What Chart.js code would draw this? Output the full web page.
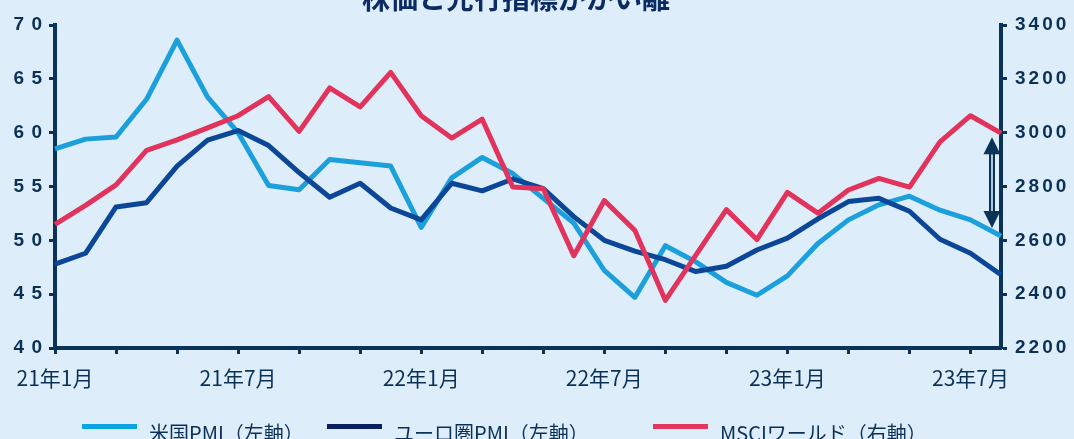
<!DOCTYPE html>
<html lang="ja">
<head>
<meta charset="utf-8">
<script src="https://cdn.jsdelivr.net/npm/chart.js@4.4.1/dist/chart.umd.min.js"></script>
<style>
  html, body { margin: 0; padding: 0; background: #ddeefa; }
  #wrap { position: relative; width: 1074px; height: 439px; overflow: hidden; background: #ddeefa; }
  #grafico { position: absolute; left: 0; top: 0; }
  .leg-sw { position: absolute; top: 424px; width: 55px; height: 5px; }
  .leg-tx { position: absolute; top: 418px; line-height: 20px; font: 20px "Noto Sans CJK JP", sans-serif; color: #0b3056; white-space: nowrap; }
</style>
</head>
<body>
<div id="wrap">
  <canvas id="grafico" width="1074" height="439"></canvas>
  <div id="legenda"></div>
</div>
<script>
const titulo = '株価と先行指標がかい離';

const meses = [
  '21年1月', '21年2月', '21年3月', '21年4月', '21年5月', '21年6月',
  '21年7月', '21年8月', '21年9月', '21年10月', '21年11月', '21年12月',
  '22年1月', '22年2月', '22年3月', '22年4月', '22年5月', '22年6月',
  '22年7月', '22年8月', '22年9月', '22年10月', '22年11月', '22年12月',
  '23年1月', '23年2月', '23年3月', '23年4月', '23年5月', '23年6月',
  '23年7月', '23年8月'
];

const pmiEUA = [58.5, 59.4, 59.6, 63.1, 68.6, 63.3, 60.0, 55.1, 54.7, 57.5, 57.2, 56.9,
                51.2, 55.8, 57.7, 56.2, 53.9, 51.6, 47.2, 44.7, 49.5, 48.0, 46.1, 44.9,
                46.7, 49.7, 51.9, 53.3, 54.1, 52.8, 51.9, 50.4];

const pmiEuro = [47.8, 48.8, 53.1, 53.5, 56.9, 59.3, 60.2, 58.8, 56.3, 54.0, 55.3, 53.0,
                 51.9, 55.3, 54.6, 55.7, 54.8, 52.2, 50.0, 49.0, 48.2, 47.1, 47.6, 49.1,
                 50.2, 52.0, 53.6, 53.9, 52.7, 50.1, 48.8, 46.8];

const msciWorld = [2659, 2730, 2806, 2934, 2973, 3018, 3063, 3134, 3005, 3166, 3096, 3224,
                   3063, 2980, 3050, 2798, 2792, 2543, 2748, 2637, 2377, 2545, 2714, 2603,
                   2778, 2701, 2787, 2830, 2798, 2966, 3063, 2998];

const ticksEsq = ['4 0', '4 5', '5 0', '5 5', '6 0', '6 5', '7 0'];
const ticksDir = ['2200', '2400', '2600', '2800', '3000', '3200', '3400'];

const series = [
  { label: '米国PMI（左軸）', data: pmiEUA, cor: '#1ba0dc', legenda: '#0ba3e2', eixo: 'yE', ordem: 3, x: 82 },
  { label: 'ユーロ圏PMI（左軸）', data: pmiEuro, cor: '#0c4696', legenda: '#0a1f5e', eixo: 'yE', ordem: 2, x: 327 },
  { label: 'MSCIワールド（右軸）', data: msciWorld, cor: '#e2335c', legenda: '#e6365f', eixo: 'yD', ordem: 1, x: 653 }
];

const azul = '#0b3358';

// legenda em HTML
const leg = document.getElementById('legenda');
series.forEach(s => {
  const sw = document.createElement('div');
  sw.className = 'leg-sw';
  sw.style.left = s.x + 'px';
  sw.style.background = s.legenda;
  const tx = document.createElement('div');
  tx.className = 'leg-tx';
  tx.style.left = (s.x + 67) + 'px';
  tx.textContent = s.label;
  leg.appendChild(sw);
  leg.appendChild(tx);
});

// espaçamento entre letras nos rotulos dos eixos y
const espacoLabels = {
  id: 'espacoLabels',
  afterLayout(chart) {
    [['yE', '1px'], ['yD', '3px']].forEach(([id, esp]) => {
      const sc = chart.scales[id];
      if (sc._comEspaco) return;
      const orig = sc.drawLabels.bind(sc);
      sc.drawLabels = area => {
        sc.ctx.save();
        sc.ctx.letterSpacing = esp;
        orig(area);
        sc.ctx.restore();
      };
      sc._comEspaco = true;
    });
  }
};

const extras = {
  id: 'extras',
  afterDraw(chart) {
    const ctx = chart.ctx;
    const x = chart.scales.x;
    const yE = chart.scales.yE;
    const yD = chart.scales.yD;
    const ult = meses.length - 1;

    // titulo (cortado no topo)
    ctx.save();
    ctx.font = 'bold 28px "Noto Sans CJK JP", sans-serif';
    ctx.fillStyle = '#0b2b62';
    ctx.textAlign = 'center';
    ctx.textBaseline = 'ideographic';
    ctx.fillText(titulo, 516, 12);
    ctx.restore();

    // seta dupla entre MSCI e PMI dos EUA
    const ax = x.getPixelForValue(ult) - 9;
    const y1 = yD.getPixelForValue(msciWorld[ult]) + 4;
    const y2 = yE.getPixelForValue(pmiEUA[ult]) - 8;
    const cab = 17;
    ctx.save();
    ctx.strokeStyle = azul;
    ctx.lineWidth = 6;
    ctx.beginPath();
    ctx.moveTo(ax, y1 + cab - 2);
    ctx.lineTo(ax, y2 - cab + 2);
    ctx.stroke();
    ctx.strokeStyle = '#ddeefa';
    ctx.lineWidth = 1.6;
    ctx.beginPath();
    ctx.moveTo(ax, y1 + cab);
    ctx.lineTo(ax, y2 - cab);
    ctx.stroke();
    ctx.fillStyle = azul;
    ctx.beginPath();
    ctx.moveTo(ax, y1);
    ctx.lineTo(ax - 8.5, y1 + cab);
    ctx.lineTo(ax + 8.5, y1 + cab);
    ctx.closePath();
    ctx.fill();
    ctx.beginPath();
    ctx.moveTo(ax, y2);
    ctx.lineTo(ax - 8.5, y2 - cab);
    ctx.lineTo(ax + 8.5, y2 - cab);
    ctx.closePath();
    ctx.fill();
    ctx.restore();
  }
};

const fonteTick = { family: '"Liberation Sans", Arial, sans-serif', size: 19, weight: 'bold' };

new Chart(document.getElementById('grafico'), {
  type: 'line',
  data: {
    labels: meses,
    datasets: series.map(s => ({
      label: s.label,
      data: s.data,
      yAxisID: s.eixo,
      order: s.ordem,
      borderColor: s.cor,
      borderWidth: 5,
      pointRadius: 0,
      tension: 0,
      borderJoinStyle: 'round',
      fill: false
    }))
  },
  options: {
    responsive: false,
    animation: false,
    devicePixelRatio: 1,
    layout: { padding: { top: 25, left: 0, right: 0, bottom: 0 } },
    plugins: {
      legend: { display: false },
      tooltip: { enabled: false }
    },
    scales: {
      x: {
        afterFit: s => { s.height = 91; },
        border: { display: true, color: azul, width: 4 },
        grid: {
          drawOnChartArea: false,
          drawTicks: true,
          tickLength: 6,
          tickWidth: 3,
          tickColor: c => (c.index % 2 === 0 ? azul : 'rgba(0,0,0,0)')
        },
        ticks: {
          autoSkip: false,
          maxRotation: 0,
          padding: 11,
          color: '#0b3056',
          font: { family: '"Noto Sans CJK JP", sans-serif', size: 21 },
          callback: (v, i) => (i % 6 === 0 ? meses[i] : '')
        }
      },
      yE: {
        position: 'left',
        min: 40,
        max: 70,
        afterFit: s => { s.width = 55; },
        border: { display: true, color: azul, width: 4 },
        grid: { drawOnChartArea: false, tickLength: 6, tickWidth: 3, tickColor: azul },
        ticks: {
          stepSize: 5,
          padding: 6,
          color: '#0b3056',
          font: fonteTick,
          callback: (v, i) => ticksEsq[i]
        }
      },
      yD: {
        position: 'right',
        min: 2200,
        max: 3400,
        afterFit: s => { s.width = 73; },
        border: { display: true, color: azul, width: 4 },
        grid: { drawOnChartArea: false, tickLength: 6, tickWidth: 3, tickColor: azul },
        ticks: {
          stepSize: 200,
          padding: 8,
          color: '#0b3056',
          font: fonteTick,
          callback: (v, i) => ticksDir[i]
        }
      }
    }
  },
  plugins: [espacoLabels, extras]
});
</script>
</body>
</html>
